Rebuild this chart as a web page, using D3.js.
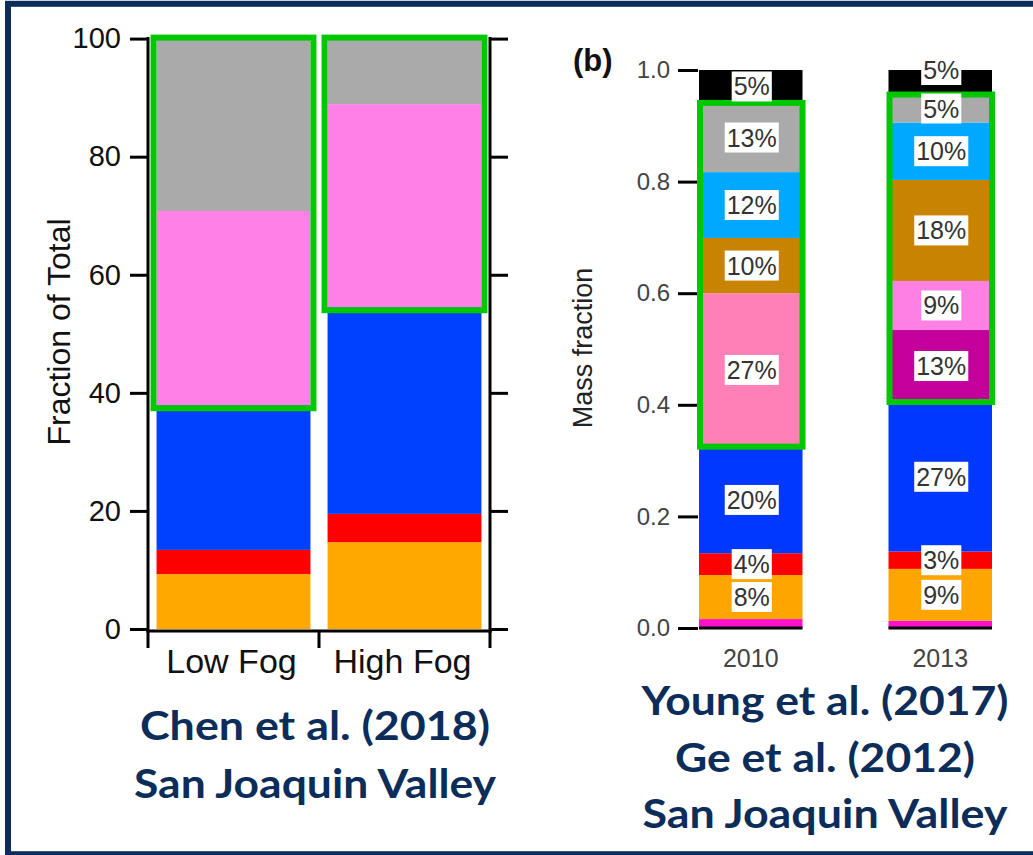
<!DOCTYPE html>
<html><head><meta charset="utf-8">
<script src="https://cdn.jsdelivr.net/npm/d3@7/dist/d3.min.js"></script>
<style>body{margin:0;background:#fff}svg{display:block}</style>
</head><body>
<svg id="c" width="1033" height="855"></svg>
<script>
// ---------- Left panel: Chen et al. (2018), fraction of total (%) ----------
const leftCategories = ["Low Fog", "High Fog"];
const leftSeries = ["orange", "red", "blue", "pink", "gray"];
const leftOrange = [9.3, 14.7];
const leftRed = [4.1, 4.8];
const leftBlue = [24.5, 35.0];
const leftPink = [32.9, 34.4];
const leftGray = [29.2, 11.1];
const leftTicks = [0, 20, 40, 60, 80, 100];
const leftBoxed = ["pink", "gray"];
const leftColors = {orange:"#ffa800", red:"#ff0000", blue:"#0040ff", pink:"#ff80e6", gray:"#aaaaaa"};

// ---------- Right panel: Young et al. (2017) / Ge et al. (2012), mass fraction ----------
const rightCategories = ["2010", "2013"];
const rightSeries = ["magenta","orange","red","blue","purple","pink2","pink1","brown","lightblue","gray","black"];
const rMagenta   = [0.016, 0.013];
const rOrange    = [0.079, 0.093];
const rRed       = [0.039, 0.031];
const rBlue      = [0.191, 0.268];
const rPurple    = [0.000, 0.129];
const rPink2     = [0.000, 0.088];
const rPink1     = [0.275, 0.000];
const rBrown     = [0.099, 0.181];
const rLightBlue = [0.118, 0.103];
const rGray      = [0.124, 0.050];
const rBlack     = [0.059, 0.044];
const labels2010 = ["", "8%", "4%", "20%", "", "", "27%", "10%", "12%", "13%", "5%"];
const labels2013 = ["", "9%", "3%", "27%", "13%", "9%", "", "18%", "10%", "5%", "5%"];
const rightTicks = [0, 0.2, 0.4, 0.6, 0.8, 1.0];
const rightBoxed = ["purple","pink2","pink1","brown","lightblue","gray"];
const rightColors = {magenta:"#ff10cc", orange:"#ffa500", red:"#ff0000", blue:"#0038ff", purple:"#c4009c",
  pink2:"#ff80e4", pink1:"#ff80b6", brown:"#c88300", lightblue:"#00a8ff", gray:"#aaaaaa", black:"#000000"};

const titleLeft = ["Chen et al. (2018)", "San Joaquin Valley"];
const titleRight = ["Young et al. (2017)", "Ge et al. (2012)", "San Joaquin Valley"];

const svg = d3.select("#c");
const NAVY = "#0c2d5a";
const FONT = "'Liberation Sans', Arial, Helvetica, sans-serif";
const TFONT = "Lato, 'Open Sans', sans-serif";

// frame
svg.append("rect").attr("x", 8).attr("y", 3.8).attr("width", 1100).attr("height", 850.4)
  .attr("fill", "none").attr("stroke", NAVY).attr("stroke-width", 6);

// ================= LEFT =================
{
  const rows = leftCategories.map((c, i) => ({cat: c, orange: leftOrange[i], red: leftRed[i],
    blue: leftBlue[i], pink: leftPink[i], gray: leftGray[i]}));
  const stack = d3.stack().keys(leftSeries)(rows);
  const x = d3.scaleBand().domain(leftCategories).range([148, 490]).paddingInner(0.1).paddingOuter(0.05);
  const y = d3.scaleLinear().domain([0, 100]).range([629, 38.6]);
  const g = svg.append("g");

  stack.forEach(s => {
    g.selectAll(null).data(s).enter().append("rect")
      .attr("x", d => x(d.data.cat)).attr("width", x.bandwidth())
      .attr("y", d => y(d[1])).attr("height", d => y(d[0]) - y(d[1]))
      .attr("fill", leftColors[s.key]);
  });

  // axes
  const yl = d3.axisLeft(y).tickValues(leftTicks).tickSize(18).tickPadding(9).tickFormat(d3.format("d"));
  const ya = g.append("g").attr("transform", "translate(148,0)").call(yl);
  ya.select(".domain").remove();
  const yr = d3.axisRight(y).tickValues(leftTicks).tickSize(18).tickFormat("");
  const yb = g.append("g").attr("transform", "translate(490,0)").call(yr);
  yb.select(".domain").remove();
  [ya, yb].forEach(a => a.selectAll(".tick line").attr("stroke", "#000").attr("stroke-width", 3));
  ya.selectAll(".tick text").attr("font-family", FONT).attr("font-size", 29).attr("fill", "#111");
  // frame lines
  g.append("line").attr("x1", 148).attr("x2", 148).attr("y1", y(100) - 1.5).attr("y2", 632.5).attr("stroke", "#000").attr("stroke-width", 3);
  g.append("line").attr("x1", 490).attr("x2", 490).attr("y1", y(100) - 1.5).attr("y2", 632.5).attr("stroke", "#000").attr("stroke-width", 3);
  g.append("line").attr("x1", 146.5).attr("x2", 491.5).attr("y1", 631).attr("y2", 631).attr("stroke", "#000").attr("stroke-width", 3);
  // x ticks at band boundaries
  const bounds = [148, (x(leftCategories[0]) + x.bandwidth() + x(leftCategories[1])) / 2, 490];
  g.selectAll(null).data(bounds).enter().append("line")
    .attr("x1", d => d).attr("x2", d => d).attr("y1", 631).attr("y2", 648)
    .attr("stroke", "#000").attr("stroke-width", 3);
  g.selectAll(null).data(leftCategories).enter().append("text")
    .attr("x", d => x(d) + x.bandwidth() / 2 - 2).attr("y", 673).attr("text-anchor", "middle")
    .attr("font-family", FONT).attr("font-size", 34).attr("fill", "#111").text(d => d);
  g.append("text").attr("transform", "translate(70,332) rotate(-90)").attr("text-anchor", "middle")
    .attr("font-family", FONT).attr("font-size", 32).attr("fill", "#111").text("Fraction of Total");

  // green boxes around boxed series
  rows.forEach((r, i) => {
    const sub = stack.filter(s => leftBoxed.includes(s.key));
    const lo = d3.min(sub, s => s[i][0]), hi = d3.max(sub, s => s[i][1]);
    const bx = x(r.cat);
    g.append("rect").attr("x", bx - 3).attr("width", x.bandwidth() + 6)
      .attr("y", y(hi) - 1).attr("height", y(lo) - y(hi) + 4)
      .attr("fill", "none").attr("stroke", "#00c800").attr("stroke-width", 6);
  });

  titleLeft.forEach((t, i) => {
    svg.append("text").attr("x", 315).attr("y", 740 + i * 58).attr("text-anchor", "middle")
      .attr("font-family", TFONT).attr("font-weight", 700).attr("font-size", 40).attr("fill", NAVY)
      .attr("textLength", i === 0 ? 350 : 362).attr("lengthAdjust", "spacingAndGlyphs").text(t);
  });
}

// ================= RIGHT =================
{
  const series = {magenta: rMagenta, orange: rOrange, red: rRed, blue: rBlue, purple: rPurple, pink2: rPink2,
    pink1: rPink1, brown: rBrown, lightblue: rLightBlue, gray: rGray, black: rBlack};
  const labelsBy = [labels2010, labels2013];
  const rows = rightCategories.map((c, i) => {
    const o = {cat: c};
    rightSeries.forEach(k => o[k] = series[k][i]);
    return o;
  });
  const stack = d3.stack().keys(rightSeries)(rows);
  const x = d3.scaleBand().domain(rightCategories).range([699, 992]).paddingInner(0.4538).paddingOuter(0);
  const y = d3.scaleLinear().domain([0, 1]).range([628, 70]);
  const g = svg.append("g");

  stack.forEach(s => {
    g.selectAll(null).data(s.filter(d => d[1] - d[0] > 0)).enter().append("rect")
      .attr("x", d => x(d.data.cat)).attr("width", x.bandwidth())
      .attr("y", d => y(d[1])).attr("height", d => y(d[0]) - y(d[1]))
      .attr("fill", rightColors[s.key]);
  });
  // baseline under bars
  g.selectAll(null).data(rightCategories).enter().append("line")
    .attr("x1", d => x(d)).attr("x2", d => x(d) + x.bandwidth()).attr("y1", y(0)).attr("y2", y(0))
    .attr("stroke", "#000").attr("stroke-width", 3);

  const ax = d3.axisLeft(y).tickValues(rightTicks).tickSize(20).tickPadding(8).tickFormat(d3.format(".1f"));
  const ya = g.append("g").attr("transform", "translate(698,0)").call(ax);
  ya.select(".domain").remove();
  ya.selectAll(".tick line").attr("stroke", "#000").attr("stroke-width", 3);
  ya.selectAll(".tick text").attr("font-family", FONT).attr("font-size", 24).attr("fill", "#444");

  g.selectAll(null).data(rightCategories).enter().append("text")
    .attr("x", d => x(d) + x.bandwidth() / 2).attr("y", 667).attr("text-anchor", "middle")
    .attr("font-family", FONT).attr("font-size", 25).attr("fill", "#444").text(d => d);
  g.append("text").attr("transform", "translate(592,348) rotate(-90)").attr("text-anchor", "middle")
    .attr("font-family", FONT).attr("font-size", 27).attr("fill", "#222").text("Mass fraction");
  g.append("text").attr("x", 573).attr("y", 71).attr("font-family", FONT).attr("font-weight", 700)
    .attr("font-size", 31).attr("fill", "#111").text("(b)");

  // green boxes
  rows.forEach((r, i) => {
    const sub = stack.filter(s => rightBoxed.includes(s.key) && s[i][1] - s[i][0] > 0);
    const lo = d3.min(sub, s => s[i][0]), hi = d3.max(sub, s => s[i][1]);
    g.append("rect").attr("x", x(r.cat) + 1).attr("width", x.bandwidth() - 1)
      .attr("y", y(hi)).attr("height", y(lo) - y(hi))
      .attr("fill", "none").attr("stroke", "#00c800").attr("stroke-width", 6);
  });

  // percentage labels
  stack.forEach((s, si) => {
    s.forEach((d, i) => {
      const txt = labelsBy[i][si];
      if (!txt) return;
      const top = y(d[1]), bot = y(d[0]);
      const isTop = si === rightSeries.length - 1;
      const cy = (isTop && bot - top < 26) ? top : (top + bot) / 2;
      const cx = x(d.data.cat) + x.bandwidth() / 2 + 1;
      const lg = g.append("g");
      const r = lg.append("rect").attr("fill", "#fff");
      const t = lg.append("text").attr("x", cx).attr("y", cy + 9).attr("text-anchor", "middle")
        .attr("font-family", FONT).attr("font-size", 25).attr("fill", "#333").text(txt);
      const w = t.node().getComputedTextLength();
      r.attr("x", cx - w / 2 - 2).attr("width", w + 4).attr("y", cy - 15).attr("height", 30);
    });
  });

  titleRight.forEach((t, i) => {
    const lens = [367, 300, 365];
    svg.append("text").attr("x", 825).attr("y", 715 + i * 56.5).attr("text-anchor", "middle")
      .attr("font-family", TFONT).attr("font-weight", 700).attr("font-size", 40).attr("fill", NAVY)
      .attr("textLength", lens[i]).attr("lengthAdjust", "spacingAndGlyphs").text(t);
  });
}
</script>
</body></html>
